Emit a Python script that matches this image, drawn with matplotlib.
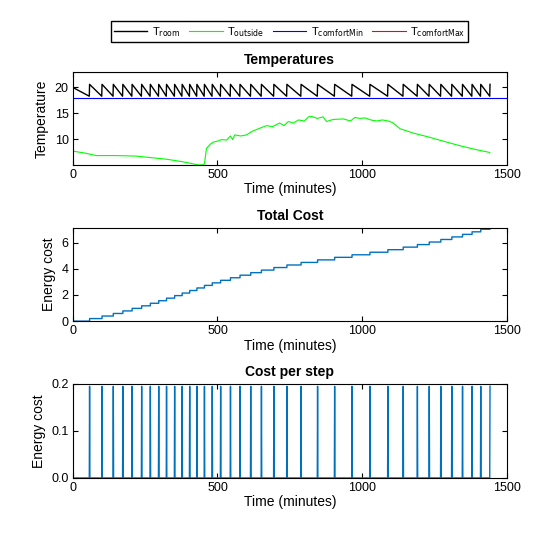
import numpy as np
import matplotlib.pyplot as plt

plt.rcParams['font.family'] = ['Liberation Sans', 'DejaVu Sans']

# heater switch-on times (minutes)
heat_times = [58, 101, 140, 173, 205, 238, 268, 297, 324, 352, 378, 404, 429, 455,
              482, 511, 545, 578, 615, 652, 695, 740, 789, 846, 905, 965, 1027, 1089,
              1142, 1191, 1232, 1272, 1310, 1347, 1380, 1410, 1442]
cost_per_event = 0.195
t_peak = 20.6
t_trough = 18.3
t_start = 20.0
t_end = 1442

# outside temperature keypoints
out_t = [0, 40, 81, 150, 219, 270, 323, 380, 433, 450, 455, 462, 475, 485, 500, 515, 531,
         545, 552, 560, 580, 600, 620, 646, 670, 690, 715, 730, 745, 762, 780, 800, 815,
         825, 845, 865, 877, 900, 935, 960, 975, 992, 1010, 1030, 1050, 1070, 1090, 1105,
         1131, 1180, 1223, 1280, 1338, 1390, 1441]
out_T = [7.66, 7.3, 6.8, 6.8, 6.7, 6.4, 6.1, 5.6, 5.0, 5.0, 5.2, 8.2, 9.0, 9.4, 9.6, 9.9, 9.8,
         10.6, 9.9, 10.8, 10.6, 10.8, 11.5, 12.1, 12.6, 12.4, 13.1, 12.6, 13.4, 13.1, 13.7,
         13.5, 14.3, 14.4, 14.0, 14.3, 13.4, 13.8, 13.9, 13.5, 14.2, 14.0, 14.1, 13.7, 13.5,
         13.7, 13.5, 13.2, 12.0, 11.1, 10.5, 9.6, 8.7, 8.0, 7.4]

t_min_comfort = 18.0
t_max_comfort = 23.0

# build room temperature sawtooth and cost series from heater events
t = np.arange(0, t_end + 1)
room = np.empty(len(t), dtype=float)
prev_t, prev_T = 0, t_start
for k, ht in enumerate(heat_times + [t_end + 1]):
    seg = (t >= prev_t) & (t < ht)
    room[seg] = np.linspace(prev_T, t_trough, seg.sum()) if seg.sum() > 1 else prev_T
    prev_t, prev_T = ht, t_peak
cost = np.zeros(len(t))
for ht in heat_times:
    cost[min(ht, t_end)] = cost_per_event
total = np.cumsum(cost)

fig = plt.figure(figsize=(5.6, 5.37), dpi=100)
L, W = 0.130, 0.775
ax1 = fig.add_axes([L, 0.693, W, 0.173])
ax2 = fig.add_axes([L, 0.402, W, 0.173])
ax3 = fig.add_axes([L, 0.110, W, 0.175])

h1, = ax1.plot(t, room, color='black', lw=1)
h2, = ax1.plot(out_t, out_T, color='#00ff00', lw=0.8)
h3 = ax1.axhline(t_min_comfort, color='#0000ff', lw=0.8)
h4 = ax1.axhline(t_max_comfort, color='#ff0000', lw=0.8)
ax1.set_ylim(5, 23)
ax1.set_yticks([10, 15, 20])
ax1.set_ylabel('Temperature')
ax1.set_title('Temperatures', fontweight='bold', fontsize=10)

ax2.step(t, total, where='post', color='#0072bd', lw=1)
ax2.set_ylim(0, 7.1)
ax2.set_yticks([0, 2, 4, 6])
ax2.set_ylabel('Energy cost')
ax2.set_title('Total Cost', fontweight='bold', fontsize=10)

ax3.plot(t, cost, color='#0072bd', lw=1)
ax3.set_ylim(0, 0.2)
ax3.set_yticks([0, 0.1, 0.2])
ax3.set_ylabel('Energy cost')
ax3.set_title('Cost per step', fontweight='bold', fontsize=10)

for ax in (ax1, ax2, ax3):
    ax.set_xlim(0, 1500)
    ax.set_xticks([0, 500, 1000, 1500])
    ax.set_xlabel('Time (minutes)', labelpad=1)
    ax.tick_params(direction='in', top=True, right=True, labelsize=9, pad=3)

fig.legend([h1, h2, h3, h4],
           ['T$_{\\mathrm{room}}$', 'T$_{\\mathrm{outside}}$',
            'T$_{\\mathrm{comfortMin}}$', 'T$_{\\mathrm{comfortMax}}$'],
           loc='center', bbox_to_anchor=(0.517, 0.941), ncol=4, fontsize=8,
           fancybox=False, edgecolor='black', framealpha=1, handlelength=3,
           columnspacing=0.8, handletextpad=0.4, borderpad=0.3)

fig.savefig('out.png', dpi=100)
